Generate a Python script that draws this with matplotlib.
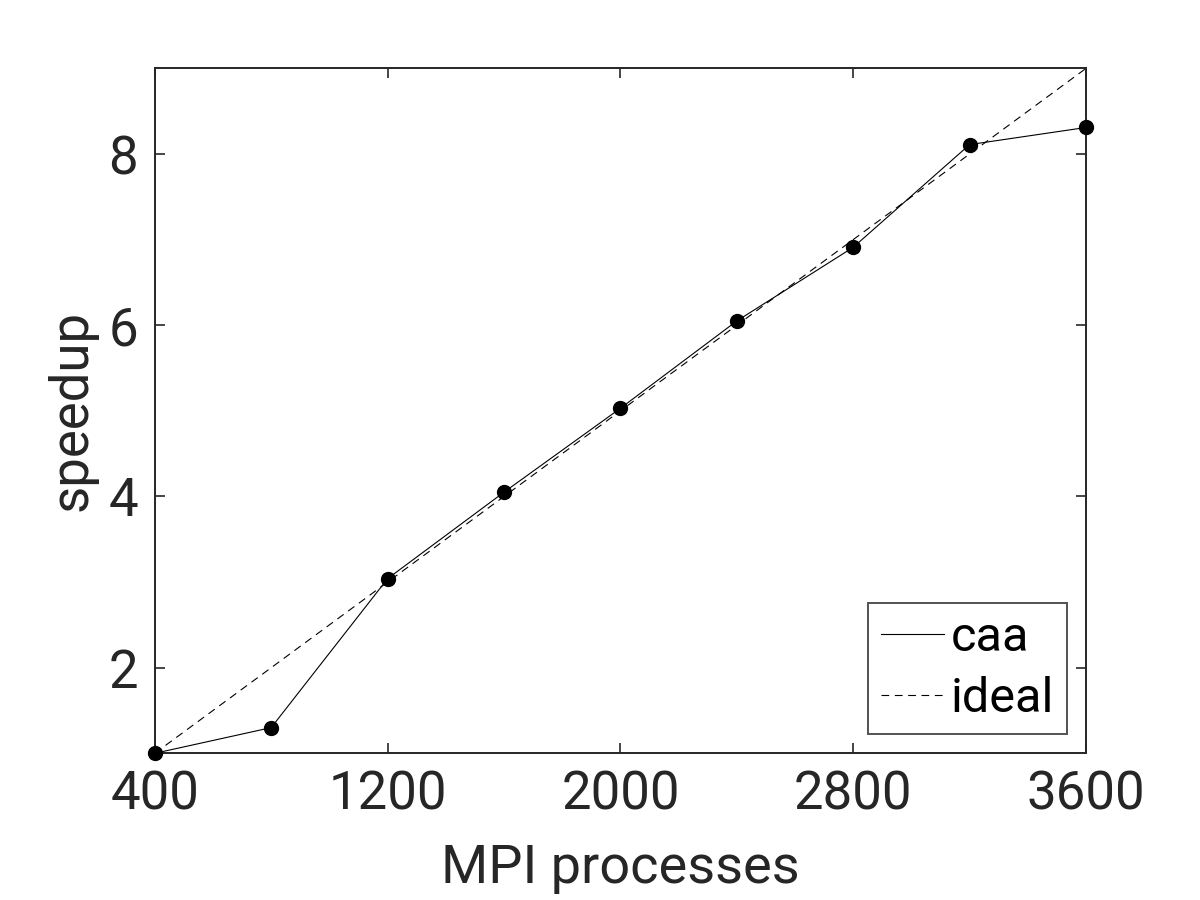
import matplotlib
matplotlib.use("Agg")
import matplotlib.pyplot as plt

plt.rcParams['font.family'] = ['Roboto', 'DejaVu Sans']

# data
procs = [400, 800, 1200, 1600, 2000, 2400, 2800, 3200, 3600]
caa = [1.0, 1.30, 3.04, 4.05, 5.03, 6.05, 6.91, 8.11, 8.31]
ideal = [1, 2, 3, 4, 5, 6, 7, 8, 9]
xticks = [400, 1200, 2000, 2800, 3600]
yticks = [2, 4, 6, 8]

gray = '#262626'

fig = plt.figure(figsize=(12, 9), dpi=100)
ax = fig.add_axes([0.129, 0.163, 0.776, 0.761])

# line and markers drawn apart so the legend shows only the line
ax.plot(procs, caa, '-', color='black', lw=0.8, label='caa')
ax.plot(procs, caa, 'o', color='black', ms=10, clip_on=False, zorder=3)
ax.plot(procs, ideal, '--', color='black', lw=0.8, dashes=(7, 5), label='ideal')

ax.set_xlim(400, 3600)
ax.set_ylim(1, 9)
ax.set_xticks(xticks)
ax.set_yticks(yticks)
ax.tick_params(direction='in', length=7, width=1.2, top=True, right=True,
               labelsize=38, colors=gray, pad=12)
for s in ax.spines.values():
    s.set_linewidth(1.4)
    s.set_color(gray)

ax.set_xlabel('MPI processes', fontsize=39, color=gray, labelpad=16)
ax.set_ylabel('speedup', fontsize=38, color=gray, labelpad=8)

leg = ax.legend(loc='lower right', fontsize=35, frameon=True, fancybox=False,
                edgecolor=gray, handlelength=1.3, handletextpad=0.15,
                borderpad=0.25, labelspacing=0.3, borderaxespad=0.4)
leg.get_frame().set_linewidth(1.4)

fig.savefig('out.png', dpi=100)
